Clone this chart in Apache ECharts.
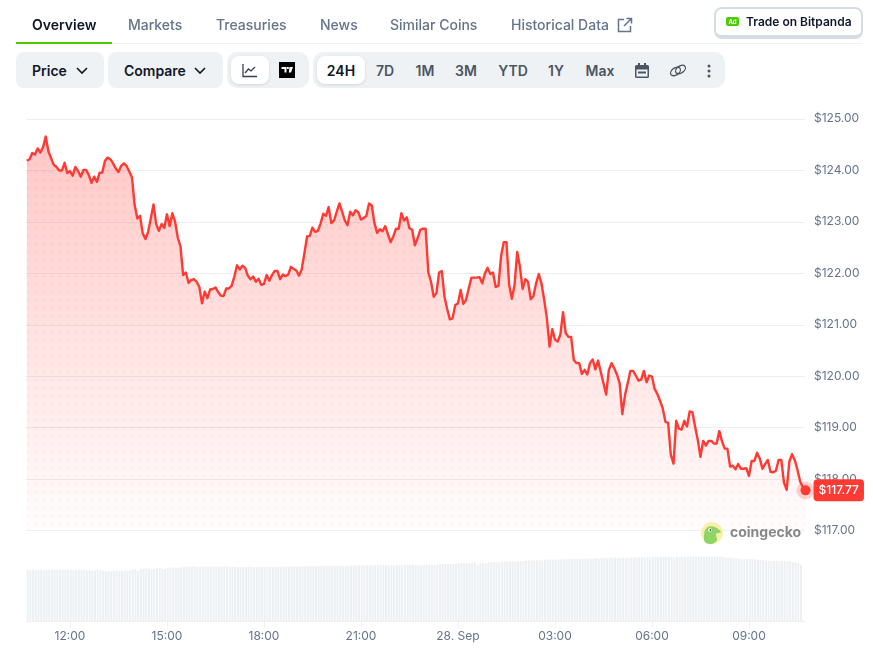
<!DOCTYPE html>
<html>
<head>
<meta charset="utf-8">
<script src="https://cdn.jsdelivr.net/npm/echarts@6/dist/echarts.min.js"></script>
<style>
html,body{margin:0;padding:0;background:#fff;width:873px;height:648px;overflow:hidden;font-family:Inter,sans-serif;}
#chart{position:absolute;left:0;top:0;width:873px;height:648px;}
.t{position:absolute;white-space:nowrap;line-height:20px;font-size:14px;}
.tab{top:15px;color:#64748b;font-weight:500;}
.box{position:absolute;background:#eff2f5;border-radius:8px;}
.w{position:absolute;background:#fff;border-radius:8px;box-shadow:0 1px 3px rgba(15,23,42,.13);}
.btn{top:61px;color:#0f172a;font-weight:600;}
.r{top:61px;color:#4b5563;font-weight:600;transform:translateX(-50%);}
svg{position:absolute;}
</style>
</head>
<body>
<div id="chart"></div>
<div class="t tab" style="left:32px;color:#0f172a;font-weight:600">Overview</div>
<div class="t tab" style="left:128px">Markets</div>
<div class="t tab" style="left:216px">Treasuries</div>
<div class="t tab" style="left:320px">News</div>
<div class="t tab" style="left:390px">Similar Coins</div>
<div class="t tab" style="left:511px">Historical Data</div>
<svg style="left:617px;top:17px" width="16" height="16" viewBox="0 0 16 16" fill="none" stroke="#64748b" stroke-width="1.5"><path d="M7 2.5H1.5v12h12V9M9.5 1.5h5v5M14.5 1.5L7 9"/></svg>
<div style="position:absolute;left:16px;top:43px;width:847px;height:1px;background:#eef0f3"></div>
<div style="position:absolute;left:16px;top:42px;width:96px;height:2px;background:#4bcc00"></div>
<div style="position:absolute;left:714px;top:7px;width:145px;height:26px;border:2px solid #d5dce6;border-bottom-width:4px;border-radius:8px;background:#fff"></div>
<div style="position:absolute;left:726px;top:17px;width:13px;height:9px;background:#4bcc00;border-radius:2px;color:#fff;font-size:6px;font-weight:700;line-height:9px;text-align:center">Ad</div>
<div class="t" style="left:746px;top:11.5px;font-size:12px;font-weight:600;color:#0f172a">Trade on Bitpanda</div>

<div class="box" style="left:16px;top:52px;width:88px;height:36px"></div>
<div class="t btn" style="left:32px">Price</div>
<svg style="left:75px;top:66px" width="14" height="10" viewBox="0 0 14 10" fill="none" stroke="#0f172a" stroke-width="1.6"><path d="M2 2l5 5 5-5"/></svg>
<div class="box" style="left:108px;top:52px;width:115px;height:36px"></div>
<div class="t btn" style="left:124px">Compare</div>
<svg style="left:193px;top:66px" width="14" height="10" viewBox="0 0 14 10" fill="none" stroke="#0f172a" stroke-width="1.6"><path d="M2 2l5 5 5-5"/></svg>
<div class="box" style="left:227px;top:52px;width:82px;height:36px;border-radius:10px"></div>
<div class="w" style="left:231px;top:56px;width:38px;height:28px"></div>
<svg style="left:242px;top:63px" width="16" height="15" viewBox="0 0 16 15" fill="none" stroke="#334155" stroke-width="1.3"><path d="M1 1v12.5h14M3 10l3.5-4 2.500 2L13 4"/></svg>
<div style="position:absolute;left:279px;top:62px;width:16px;height:16px;background:#000"></div>
<svg style="left:279px;top:62px" width="16" height="16" viewBox="0 0 16 16" fill="#fff"><path d="M2.500 5h5v5.500H5.500V7h-3zM8 5h1.800v2H8zM10.500 5H14l-2 5.500h-2.200z"/></svg>
<div class="box" style="left:313px;top:52px;width:412px;height:36px;border-radius:10px"></div>
<div class="w" style="left:317px;top:56px;width:48px;height:28px"></div>
<div class="t r" style="left:341px;color:#0f172a">24H</div>
<div class="t r" style="left:385px">7D</div>
<div class="t r" style="left:425px">1M</div>
<div class="t r" style="left:466px">3M</div>
<div class="t r" style="left:513px">YTD</div>
<div class="t r" style="left:556px">1Y</div>
<div class="t r" style="left:600px">Max</div>
<svg style="left:635px;top:63px" width="14" height="15" viewBox="0 0 14 15" fill="#4b5563"><path d="M3 0h2v2h4V0h2v2h1.500A1.500 1.500 0 0 1 14 3.500v10a1.500 1.500 0 0 1-1.500 1.500h-11A1.500 1.500 0 0 1 0 13.500v-10A1.500 1.500 0 0 1 1.500 2H3zM1.500 6.500v7h11v-7z"/><rect x="3" y="8.500" width="8" height="2"/></svg>
<svg style="left:669px;top:63px" width="18" height="15" viewBox="0 0 18 15" fill="none" stroke="#4b5563" stroke-width="1.300"><ellipse cx="6.500" cy="8.500" rx="5.500" ry="3.500" transform="rotate(-35 6.500 8.500)"/><ellipse cx="11.500" cy="6.500" rx="5.500" ry="3.500" transform="rotate(-35 11.500 6.500)"/></svg>
<svg style="left:707px;top:64px" width="4" height="14" viewBox="0 0 4 14" fill="#4b5563"><circle cx="2" cy="2" r="1.500"/><circle cx="2" cy="7" r="1.500"/><circle cx="2" cy="12" r="1.500"/></svg>

<script>
// Axis labels
const priceTicks = [117,118,119,120,121,122,123,124,125];
const timeTicks = [720,900,1080,1260,1440,1620,1800,1980]; // minutes after 00:00, 27 Sep
const timeLabels = ['12:00','15:00','18:00','21:00','28. Sep','03:00','06:00','09:00'];
const firstSampleMinute = 640;   // 10:40
const sampleStepMinutes = 5;

// USD price, one reading per 5 minutes
const prices = [
124.17,124.20,124.32,124.29,124.41,124.33,124.43,124.64,124.35,124.22,
124.09,124.05,123.98,123.98,124.13,123.93,123.97,123.88,124.05,123.97,
123.86,123.99,123.99,123.89,123.74,123.86,123.76,123.94,123.94,124.17,
124.23,124.20,124.12,124.02,123.95,124.07,124.12,124.07,123.96,123.85,
123.31,123.05,123.10,122.76,122.65,122.79,123.05,123.32,122.94,122.81,
122.94,122.87,123.13,122.90,123.15,122.99,122.68,122.51,121.95,122.00,
121.80,121.85,121.87,121.82,121.72,121.40,121.63,121.50,121.67,121.68,
121.71,121.62,121.55,121.54,121.69,121.69,121.74,121.92,122.14,122.06,
122.13,122.09,121.94,121.87,121.92,121.82,121.88,121.76,121.78,121.95,
121.84,121.95,122.03,122.03,121.87,
121.96,121.93,121.96,122.11,122.07,122.04,121.94,122.06,122.37,122.70,
122.71,122.87,122.79,122.81,122.95,123.14,123.10,123.27,122.96,123.01,
123.18,123.34,123.18,123.01,122.92,123.18,123.11,123.21,123.17,123.03,
123.06,123.10,123.34,123.30,122.96,122.77,122.84,122.80,122.90,122.74,
122.59,122.70,122.85,122.85,123.15,123.01,123.07,122.86,122.83,122.53,
122.66,122.83,122.85,122.85,122.00,121.82,121.53,121.60,122.00,122.03,
121.53,121.29,121.09,121.11,121.37,121.40,121.66,121.39,121.47,121.69,
121.90,121.90,121.90,121.91,121.79,121.98,122.09,121.97,122.00,121.72,
121.74,122.32,122.59,122.59,121.76,121.49,121.76,122.40,122.11,121.68,
121.87,121.82,121.48,121.54,121.79,121.97,121.79,121.47,121.11,120.56,
120.90,120.70,120.66,120.79,121.23,120.82,120.75,120.75,120.30,120.24,
120.24,120.03,120.11,120.02,120.24,120.31,120.12,120.29,120.07,119.85,
119.63,120.11,120.24,120.14,120.02,119.85,119.25,119.62,119.85,120.09,
120.09,120.00,119.90,119.92,120.09,119.87,120.00,119.98,119.74,119.64,
119.51,119.36,119.10,119.08,118.46,118.29,119.12,118.97,118.95,119.12,
119.01,119.30,119.29,119.01,118.75,118.42,118.73,118.64,118.73,118.73,
118.68,118.68,118.92,118.72,118.58,118.58,118.23,118.25,118.18,118.28,
118.19,118.19,118.20,118.05,118.34,118.34,118.50,118.39,118.19,118.28,
118.36,118.13,118.12,118.15,118.36,118.36,117.92,117.78,118.33,118.47,
118.36,118.17,117.94,117.83,117.77
];

// Trading volume per sample, relative units
const volumes = [
51.7,51.7,52.3,51.7,51.7,52.2,51.6,52.0,52.2,52.2,
52.2,52.2,52.2,52.2,52.2,52.2,52.2,51.5,52.2,52.2,
51.7,52.0,51.2,52.0,51.0,51.4,52.0,51.5,51.2,50.7,
51.0,50.7,51.2,51.2,51.2,51.2,51.2,51.4,51.6,52.2,
53.0,50.8,53.2,53.4,53.4,53.4,52.8,53.0,54.2,54.2,
53.0,53.0,54.6,54.2,54.6,54.2,54.2,54.6,55.2,55.0,
55.2,55.4,55.4,55.0,54.8,55.4,55.4,55.0,55.4,55.2,
55.2,55.2,55.2,56.2,55.4,55.0,55.4,55.0,55.0,55.0,
54.8,55.0,55.4,55.0,55.0,55.0,55.0,55.0,55.0,55.0,
55.0,55.0,55.0,55.0,55.2,55.2,55.2,55.4,55.4,55.4,
55.6,55.6,55.6,55.6,55.8,55.8,55.8,55.8,55.8,56.0,
56.0,56.0,56.0,56.2,56.2,56.4,56.2,56.2,56.4,56.2,
56.4,56.4,56.4,56.6,56.6,56.6,56.4,56.6,56.8,56.8,
56.8,56.8,56.8,56.8,56.8,56.8,56.8,56.8,56.8,56.8,
56.8,57.6,57.0,57.6,56.8,56.8,56.6,56.8,57.4,57.4,
57.4,57.0,57.4,58.0,58.0,58.0,58.0,57.6,57.8,58.0,
59.0,59.0,59.0,58.6,58.6,59.4,59.4,57.0,59.0,59.2,
58.6,59.8,59.4,59.8,59.8,59.4,60.0,60.6,60.6,60.6,
60.6,60.6,60.6,60.8,61.0,61.4,61.4,61.4,61.6,61.6,
61.6,61.6,62.4,62.4,62.4,62.4,62.6,62.6,62.6,62.6,
63.2,63.2,63.2,63.2,63.2,63.2,63.2,63.4,63.4,63.2,
63.0,64.2,63.2,64.2,64.2,63.6,64.4,64.4,64.4,64.4,
64.4,64.4,64.4,64.4,64.4,64.4,64.4,64.8,64.8,64.8,
64.8,64.8,65.0,65.0,65.0,65.2,65.2,65.2,65.2,65.2,
64.6,65.6,65.0,65.6,65.4,65.4,65.6,65.6,65.6,65.6,
65.6,65.6,65.6,65.6,65.6,65.6,65.0,65.6,65.0,64.4,
64.4,64.0,64.0,63.4,63.4,62.4,63.0,63.0,63.0,63.0,
62.6,62.6,61.8,62.0,61.2,61.2,61.0,61.0,61.0,61.0,
61.0,61.0,60.6,60.4,60.0,59.4,59.0,57.0
];

const lastPrice = prices[prices.length - 1];
const timeOf = i => firstSampleMinute + i * sampleStepMinutes;
const priceData = prices.map((p, i) => [timeOf(i), p]);
const volumeData = volumes.map((v, i) => [timeOf(i) + 1.5, v]);
const lastPoint = [timeOf(prices.length - 1), lastPrice];

// Dotted texture that fades towards the bottom of the area
const tile = document.createElement('canvas');
tile.width = 8; tile.height = 648;
const ctx = tile.getContext('2d');
for (let y = 4; y < 648; y += 8) {
  const a = Math.max(0.03, 0.08 - 0.05 * (y - 120) / 410);
  ctx.fillStyle = 'rgba(255,58,51,' + a + ')';
  ctx.beginPath(); ctx.arc(4, y, 1.6, 0, Math.PI * 2); ctx.fill();
}

const chart = echarts.init(document.getElementById('chart'));
const labelColor = '#64748b';
const font = 'Inter, sans-serif';
const xMin = 638.4, xMax = 2084;
chart.setOption({
  animation: false,
  backgroundColor: '#fff',
  grid: [
    {left: 26, right: 68, top: 118, height: 412},      // price line
    {left: 26, right: 68, top: 556, height: 65.5},     // volume
    {left: 26, right: 68, top: 118.8, height: 411.9}   // price gridlines and labels
  ],
  xAxis: [
    {gridIndex: 0, type: 'value', min: xMin, max: xMax, show: false, splitLine: {show: false}},
    {gridIndex: 1, type: 'value', min: xMin, max: xMax,
     splitLine: {show: false},
     axisLine: {show: true, onZero: false, lineStyle: {color: '#eef1f4', width: 1}},
     axisTick: {show: true, customValues: timeTicks, length: 6, lineStyle: {color: '#eef1f4'}},
     axisLabel: {show: true, customValues: timeTicks, color: labelColor, fontFamily: font, fontSize: 12, margin: 9, hideOverlap: false,
       formatter: v => timeLabels[timeTicks.indexOf(v)] || ''}},
    {gridIndex: 2, type: 'value', min: xMin, max: xMax, show: false, splitLine: {show: false}}
  ],
  yAxis: [
    {gridIndex: 0, type: 'value', min: priceTicks[0], max: priceTicks[priceTicks.length - 1], show: false, splitLine: {show: false}},
    {gridIndex: 1, type: 'value', min: 0, max: 66, show: false, splitLine: {show: false}},
    {gridIndex: 2, type: 'value', position: 'right', min: priceTicks[0], max: priceTicks[priceTicks.length - 1], interval: 1,
     axisLine: {show: false}, axisTick: {show: false},
     splitLine: {lineStyle: {color: '#eceef2', width: 1}},
     axisLabel: {color: labelColor, fontFamily: font, fontSize: 12, margin: 9, formatter: v => '$' + v.toFixed(2)}}
  ],
  series: [
    {type: 'bar', name: 'Volume', xAxisIndex: 1, yAxisIndex: 1, data: volumeData, barWidth: 2,
     itemStyle: {color: '#edf0f3'}, silent: true},
    {type: 'line', name: 'Dots', xAxisIndex: 0, yAxisIndex: 0, data: priceData, showSymbol: false, silent: true,
     lineStyle: {width: 0, opacity: 0}, areaStyle: {color: {image: tile, repeat: 'repeat'}, opacity: 1}, z: 3},
    {type: 'line', name: 'Price', xAxisIndex: 0, yAxisIndex: 0, data: priceData, showSymbol: false, smooth: false, clip: false,
     lineStyle: {color: '#ff3a33', width: 2.4, join: 'round'},
     areaStyle: {opacity: 1, color: new echarts.graphic.LinearGradient(0, 0, 0, 1, [
       {offset: 0, color: 'rgba(255,58,51,0.28)'},
       {offset: 1, color: 'rgba(255,58,51,0.01)'}])}, z: 4},
    {type: 'scatter', name: 'Halo', xAxisIndex: 0, yAxisIndex: 0, data: [lastPoint], symbolSize: 18, clip: false, silent: true,
     itemStyle: {color: '#ff3a33', opacity: 0.22}, z: 5},
    {type: 'scatter', name: 'Last', xAxisIndex: 0, yAxisIndex: 0, data: [lastPoint], symbolSize: 10, clip: false, silent: true,
     itemStyle: {color: '#ff3a33', opacity: 1}, z: 6,
     label: {show: true, position: 'right', distance: 3, formatter: '$' + lastPrice.toFixed(2), color: '#fff',
       backgroundColor: '#ff3a33', borderRadius: 4, padding: [5, 5, 5, 5], fontFamily: font, fontSize: 12, fontWeight: 500}}
  ],
  graphic: [
    {type: 'circle', shape: {cx: 712, cy: 533, r: 11}, style: {fill: '#fbeeaa'}, z: 10},
    {type: 'polygon', shape: {points: [[704,540],[705,530],[709,526.5],[715,527],[721,532],[716,534],[717,540],[712,544],[706,543]], smooth: 0.3}, style: {fill: '#8fd566'}, z: 11},
    {type: 'circle', shape: {cx: 710, cy: 530, r: 1.8}, style: {fill: '#fff'}, z: 12},
    {type: 'circle', shape: {cx: 710.4, cy: 530, r: 0.9}, style: {fill: '#475569'}, z: 13},
    {type: 'text', x: 730, y: 525.5, z: 12, style: {text: 'coingecko', fill: '#888888', font: '700 14px Inter, sans-serif'}}
  ]
});
</script>
</body>
</html>
